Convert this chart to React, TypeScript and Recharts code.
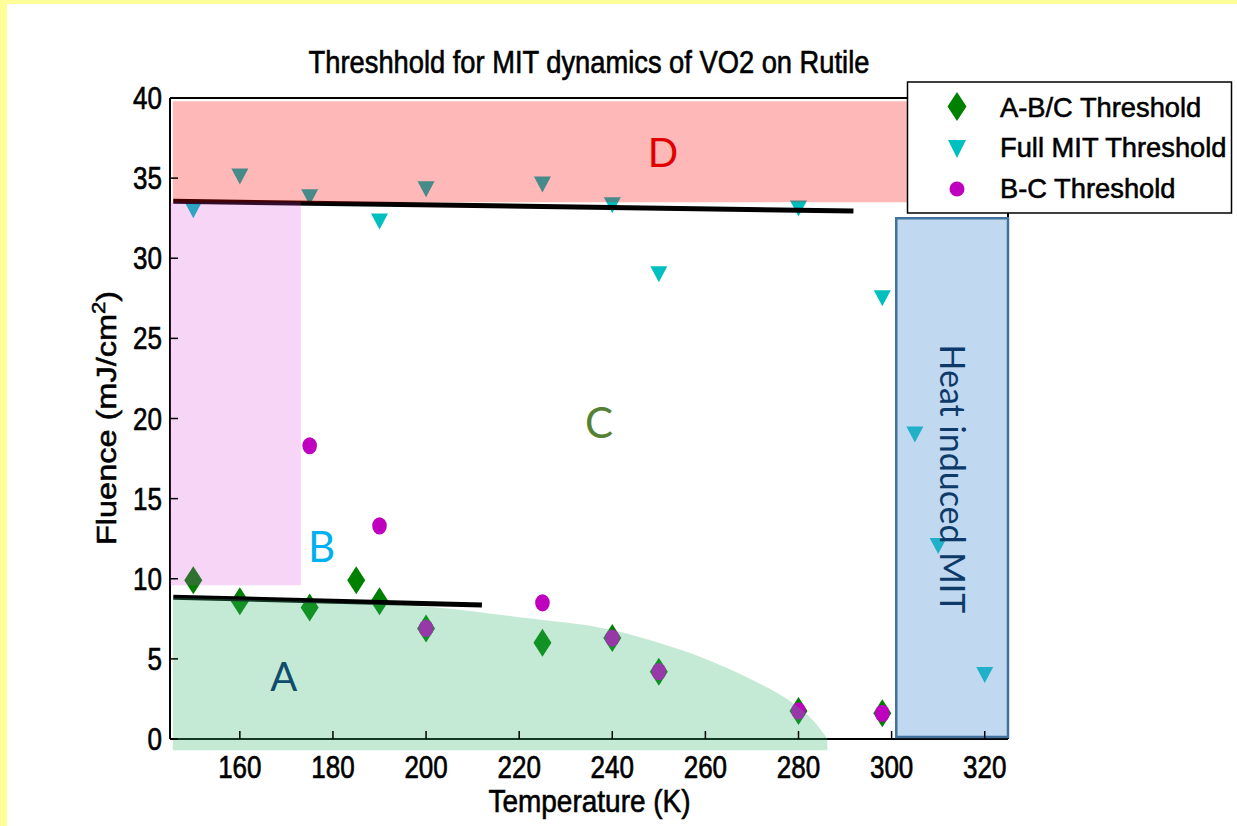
import React from 'react';
import { ComposedChart, XAxis, YAxis, Scatter, Area, ReferenceArea, ReferenceLine } from 'recharts';

// ---- axis ticks ----
const xTicks = [160, 180, 200, 220, 240, 260, 280, 300, 320];
const yTicks = [0, 5, 10, 15, 20, 25, 30, 35, 40];

// ---- series: A-B/C Threshold (green diamonds) ----
const abcT = [150, 160, 175, 185, 190, 200, 225, 240, 250, 280, 298];
const abcF = [9.9, 8.6, 8.2, 9.9, 8.6, 6.9, 6.0, 6.3, 4.2, 1.75, 1.6];

// ---- series: Full MIT Threshold (cyan down-triangles) ----
const fullT = [150, 160, 175, 190, 200, 225, 240, 250, 280, 298, 305, 310, 320];
const fullF = [33.0, 35.1, 33.8, 32.3, 34.3, 34.6, 33.3, 29.0, 33.1, 27.5, 19.0, 12.05, 4.0];

// ---- series: B-C Threshold (magenta circles) ----
const bcT = [175, 190, 200, 225, 240, 250, 280, 298];
const bcF = [18.3, 13.3, 6.9, 8.5, 6.3, 4.2, 1.75, 1.6];

// ---- region A (green) upper boundary ----
const regionAT = [145.6, 160, 180, 200, 220, 240, 250, 260, 270, 278, 283, 285.5, 286.2];
const regionAF = [8.8, 8.7, 8.5, 8.25, 7.6, 6.8, 6.0, 5.0, 3.7, 2.4, 1.2, 0.3, 0];
const regionABase = -0.7;

// ---- overlay regions (data coords) ----
const regionD = { t1: 145.6, t2: 305.1, f1: 33.5, f2: 39.8 };
const regionB = { t1: 145, t2: 173.1, f1: 9.6, f2: 33.5 };
const regionHeat = { t1: 301, t2: 325, f1: 0.12, f2: 32.5 };

// ---- fitted black lines ----
const upperLine = [{ t: 145.7, f: 33.55 }, { t: 291.8, f: 32.95 }];
const lowerLine = [{ t: 145.7, f: 8.85 }, { t: 212, f: 8.36 }];

const toData = (ts: number[], fs: number[]) => ts.map((t, i) => ({ t, f: fs[i] }));
const abcData = toData(abcT, abcF);
const fullData = toData(fullT, fullF);
const bcData = toData(bcT, bcF);
const regionAData = toData(regionAT, regionAF);

const GREEN = '#008000';
const CYAN = '#00BFBF';
const MAGENTA = '#BF00BF';
const FONT = '"Liberation Sans", Arial, sans-serif';
const AFONT = 'Lato, "Open Sans", sans-serif';
const THICK = { stroke: '#000', strokeWidth: 0.55 };

const Diamond = ({ cx, cy, w = 18, h = 28, fill }: any) => (
  <polygon points={`${cx},${cy - h / 2} ${cx + w / 2},${cy} ${cx},${cy + h / 2} ${cx - w / 2},${cy}`} fill={fill} />
);
const TriDown = ({ cx, cy, w = 17, h = 16, fill }: any) => (
  <polygon points={`${cx - w / 2},${cy - h / 2} ${cx + w / 2},${cy - h / 2} ${cx},${cy + h / 2}`} fill={fill} />
);
const Ell = ({ cx, cy, rx = 7.3, ry = 8.6, fill }: any) => <ellipse cx={cx} cy={cy} rx={rx} ry={ry} fill={fill} />;

const BottomTick = (p: any) => {
  const { x, y, payload } = p;
  return (
    <g>
      <line x1={x} x2={x} y1={y} y2={y - 8} stroke="#000" strokeWidth={1.5} />
      <text transform={`translate(${x},${y + 39}) scale(1,1.2)`} textAnchor="middle" fontSize={26} fontFamily={FONT} fill="#000" {...THICK}>
        {payload.value}
      </text>
    </g>
  );
};
const LeftTick = (p: any) => {
  const { x, y, payload } = p;
  return (
    <g>
      <line x1={x} x2={x + 8} y1={y} y2={y} stroke="#000" strokeWidth={1.5} />
      <text transform={`translate(${x - 8},${y + 11}) scale(1,1.2)`} textAnchor="end" fontSize={26} fontFamily={FONT} fill="#000" {...THICK}>
        {payload.value}
      </text>
    </g>
  );
};
const TopTick = (p: any) => {
  const { x, y } = p;
  return <line x1={x} x2={x} y1={y} y2={y + 9} stroke="#000" strokeWidth={1.5} />;
};
const RightTick = (p: any) => {
  const { x, y } = p;
  return <line x1={x} x2={x - 9} y1={y} y2={y} stroke="#000" strokeWidth={1.5} />;
};

export default function App() {
  return (
    <div style={{ position: 'fixed', left: 0, top: 0, width: 1237, height: 826, background: '#FFFF99', overflow: 'hidden' }}>
      <div style={{ position: 'absolute', left: 7, top: 4, right: 0, bottom: 0, background: '#FFFFFF' }} />
      <div style={{ position: 'absolute', left: 0, top: 0 }}>
        <ComposedChart width={1237} height={826} margin={{ top: 97, right: 228, bottom: 86, left: 169 }}>
          <XAxis dataKey="t" type="number" domain={[145, 325]} ticks={xTicks} interval={0} height={1}
            tickSize={0} tickMargin={0} tickLine={false} axisLine={{ stroke: '#000', strokeWidth: 2 }} tick={<BottomTick />} />
          <XAxis xAxisId="top" orientation="top" dataKey="t" type="number" domain={[145, 325]} ticks={xTicks} interval={0} height={1}
            tickSize={0} tickMargin={0} tickLine={false} axisLine={{ stroke: '#000', strokeWidth: 2 }} tick={<TopTick />} />
          <YAxis dataKey="f" type="number" domain={[0, 40]} ticks={yTicks} interval={0} width={1}
            tickSize={0} tickMargin={0} tickLine={false} axisLine={{ stroke: '#000', strokeWidth: 2 }} tick={<LeftTick />} />
          <YAxis yAxisId="right" orientation="right" dataKey="f" type="number" domain={[0, 40]} ticks={yTicks} interval={0} width={1}
            tickSize={0} tickMargin={0} tickLine={false} axisLine={{ stroke: '#000', strokeWidth: 2 }} tick={<RightTick />} />

          <Scatter name="A-B/C Threshold" data={abcData} dataKey="f" isAnimationActive={false}
            shape={(p: any) => <Diamond cx={p.cx} cy={p.cy} fill={GREEN} />} />
          <Scatter name="Full MIT Threshold" data={fullData} dataKey="f" isAnimationActive={false}
            shape={(p: any) => <TriDown cx={p.cx} cy={p.cy} fill={CYAN} />} />
          <Scatter name="B-C Threshold" data={bcData} dataKey="f" isAnimationActive={false}
            shape={(p: any) => <Ell cx={p.cx} cy={p.cy} fill={MAGENTA} />} />

          <ReferenceLine segment={[{ x: upperLine[0].t, y: upperLine[0].f }, { x: upperLine[1].t, y: upperLine[1].f }]}
            stroke="#000" strokeWidth={5} ifOverflow="visible" zIndex={650} />
          <ReferenceLine segment={[{ x: lowerLine[0].t, y: lowerLine[0].f }, { x: lowerLine[1].t, y: lowerLine[1].f }]}
            stroke="#000" strokeWidth={5} ifOverflow="visible" zIndex={650} />

          <ReferenceArea x1={regionB.t1} x2={regionB.t2} y1={regionB.f1} y2={regionB.f2}
            fill="#D541D5" fillOpacity={0.22} stroke="none" ifOverflow="visible" zIndex={700} />
          <Area data={regionAData} dataKey="f" type="monotone" baseValue={regionABase} fill="#3CB878" fillOpacity={0.3}
            stroke="none" dot={false} activeDot={false} isAnimationActive={false} zIndex={700} />
          <ReferenceArea x1={regionD.t1} x2={regionD.t2} y1={regionD.f1} y2={regionD.f2}
            fill="#FF0000" fillOpacity={0.28} stroke="none" ifOverflow="visible" zIndex={700} />
          <ReferenceArea x1={regionHeat.t1} x2={regionHeat.t2} y1={regionHeat.f1} y2={regionHeat.f2}
            fill="#5697D7" fillOpacity={0.37} stroke="#41719C" strokeWidth={2.5} ifOverflow="visible" zIndex={700} />
        </ComposedChart>
      </div>
      <svg width={1237} height={826} style={{ position: 'absolute', left: 0, top: 0, pointerEvents: 'none' }}>
        <text transform="translate(589,72.7) scale(1,1.17)" textAnchor="middle" fontSize={27.3} fontFamily={FONT} fill="#000" {...THICK}>
          Threshhold for MIT dynamics of VO2 on Rutile
        </text>
        <text transform="translate(589.5,811.5) scale(1,1.1)" textAnchor="middle" fontSize={28} fontFamily={FONT} fill="#000" {...THICK}>
          Temperature (K)
        </text>
        <text transform="translate(116,418) scale(1,1.16) rotate(-90)" textAnchor="middle" fontSize={28} fontFamily={FONT} fill="#000" {...THICK}>
          Fluence (mJ/cm<tspan dy={-11} fontSize={19}>2</tspan><tspan dy={11}>)</tspan>
        </text>

        {/* annotations */}
        <text x={663} y={166.5} textAnchor="middle" fontSize={40} fontFamily={AFONT} fill="#E00000">D</text>
        <text x={599} y={438} textAnchor="middle" fontSize={42} fontFamily={AFONT} fill="#548235">C</text>
        <text x={321.7} y={561.5} textAnchor="middle" fontSize={42} fontFamily={AFONT} fill="#00B0F0">B</text>
        <text x={283.7} y={690.5} textAnchor="middle" fontSize={40} fontFamily={AFONT} fill="#0F4C6E">A</text>
        <text transform="translate(940,479) rotate(90)" textAnchor="middle" fontSize={34} fontFamily={AFONT} fill="#0E3A6A">
          Heat induced MIT
        </text>

        {/* legend */}
        <rect x={907.5} y={82} width={324} height={131} fill="#fff" stroke="#000" strokeWidth={1.5} />
        <Diamond cx={957} cy={106.5} w={19} h={29} fill={GREEN} />
        <TriDown cx={957} cy={149} w={18} h={18} fill={CYAN} />
        <Ell cx={957} cy={189} rx={7.5} ry={7.5} fill={MAGENTA} />
        <text x={1000} y={116.7} fontSize={27.3} fontFamily={FONT} fill="#000" {...THICK}>A-B/C Threshold</text>
        <text x={1000} y={157.3} fontSize={27.3} fontFamily={FONT} fill="#000" {...THICK}>Full MIT Threshold</text>
        <text x={1000} y={198} fontSize={27.3} fontFamily={FONT} fill="#000" {...THICK}>B-C Threshold</text>
      </svg>
    </div>
  );
}
